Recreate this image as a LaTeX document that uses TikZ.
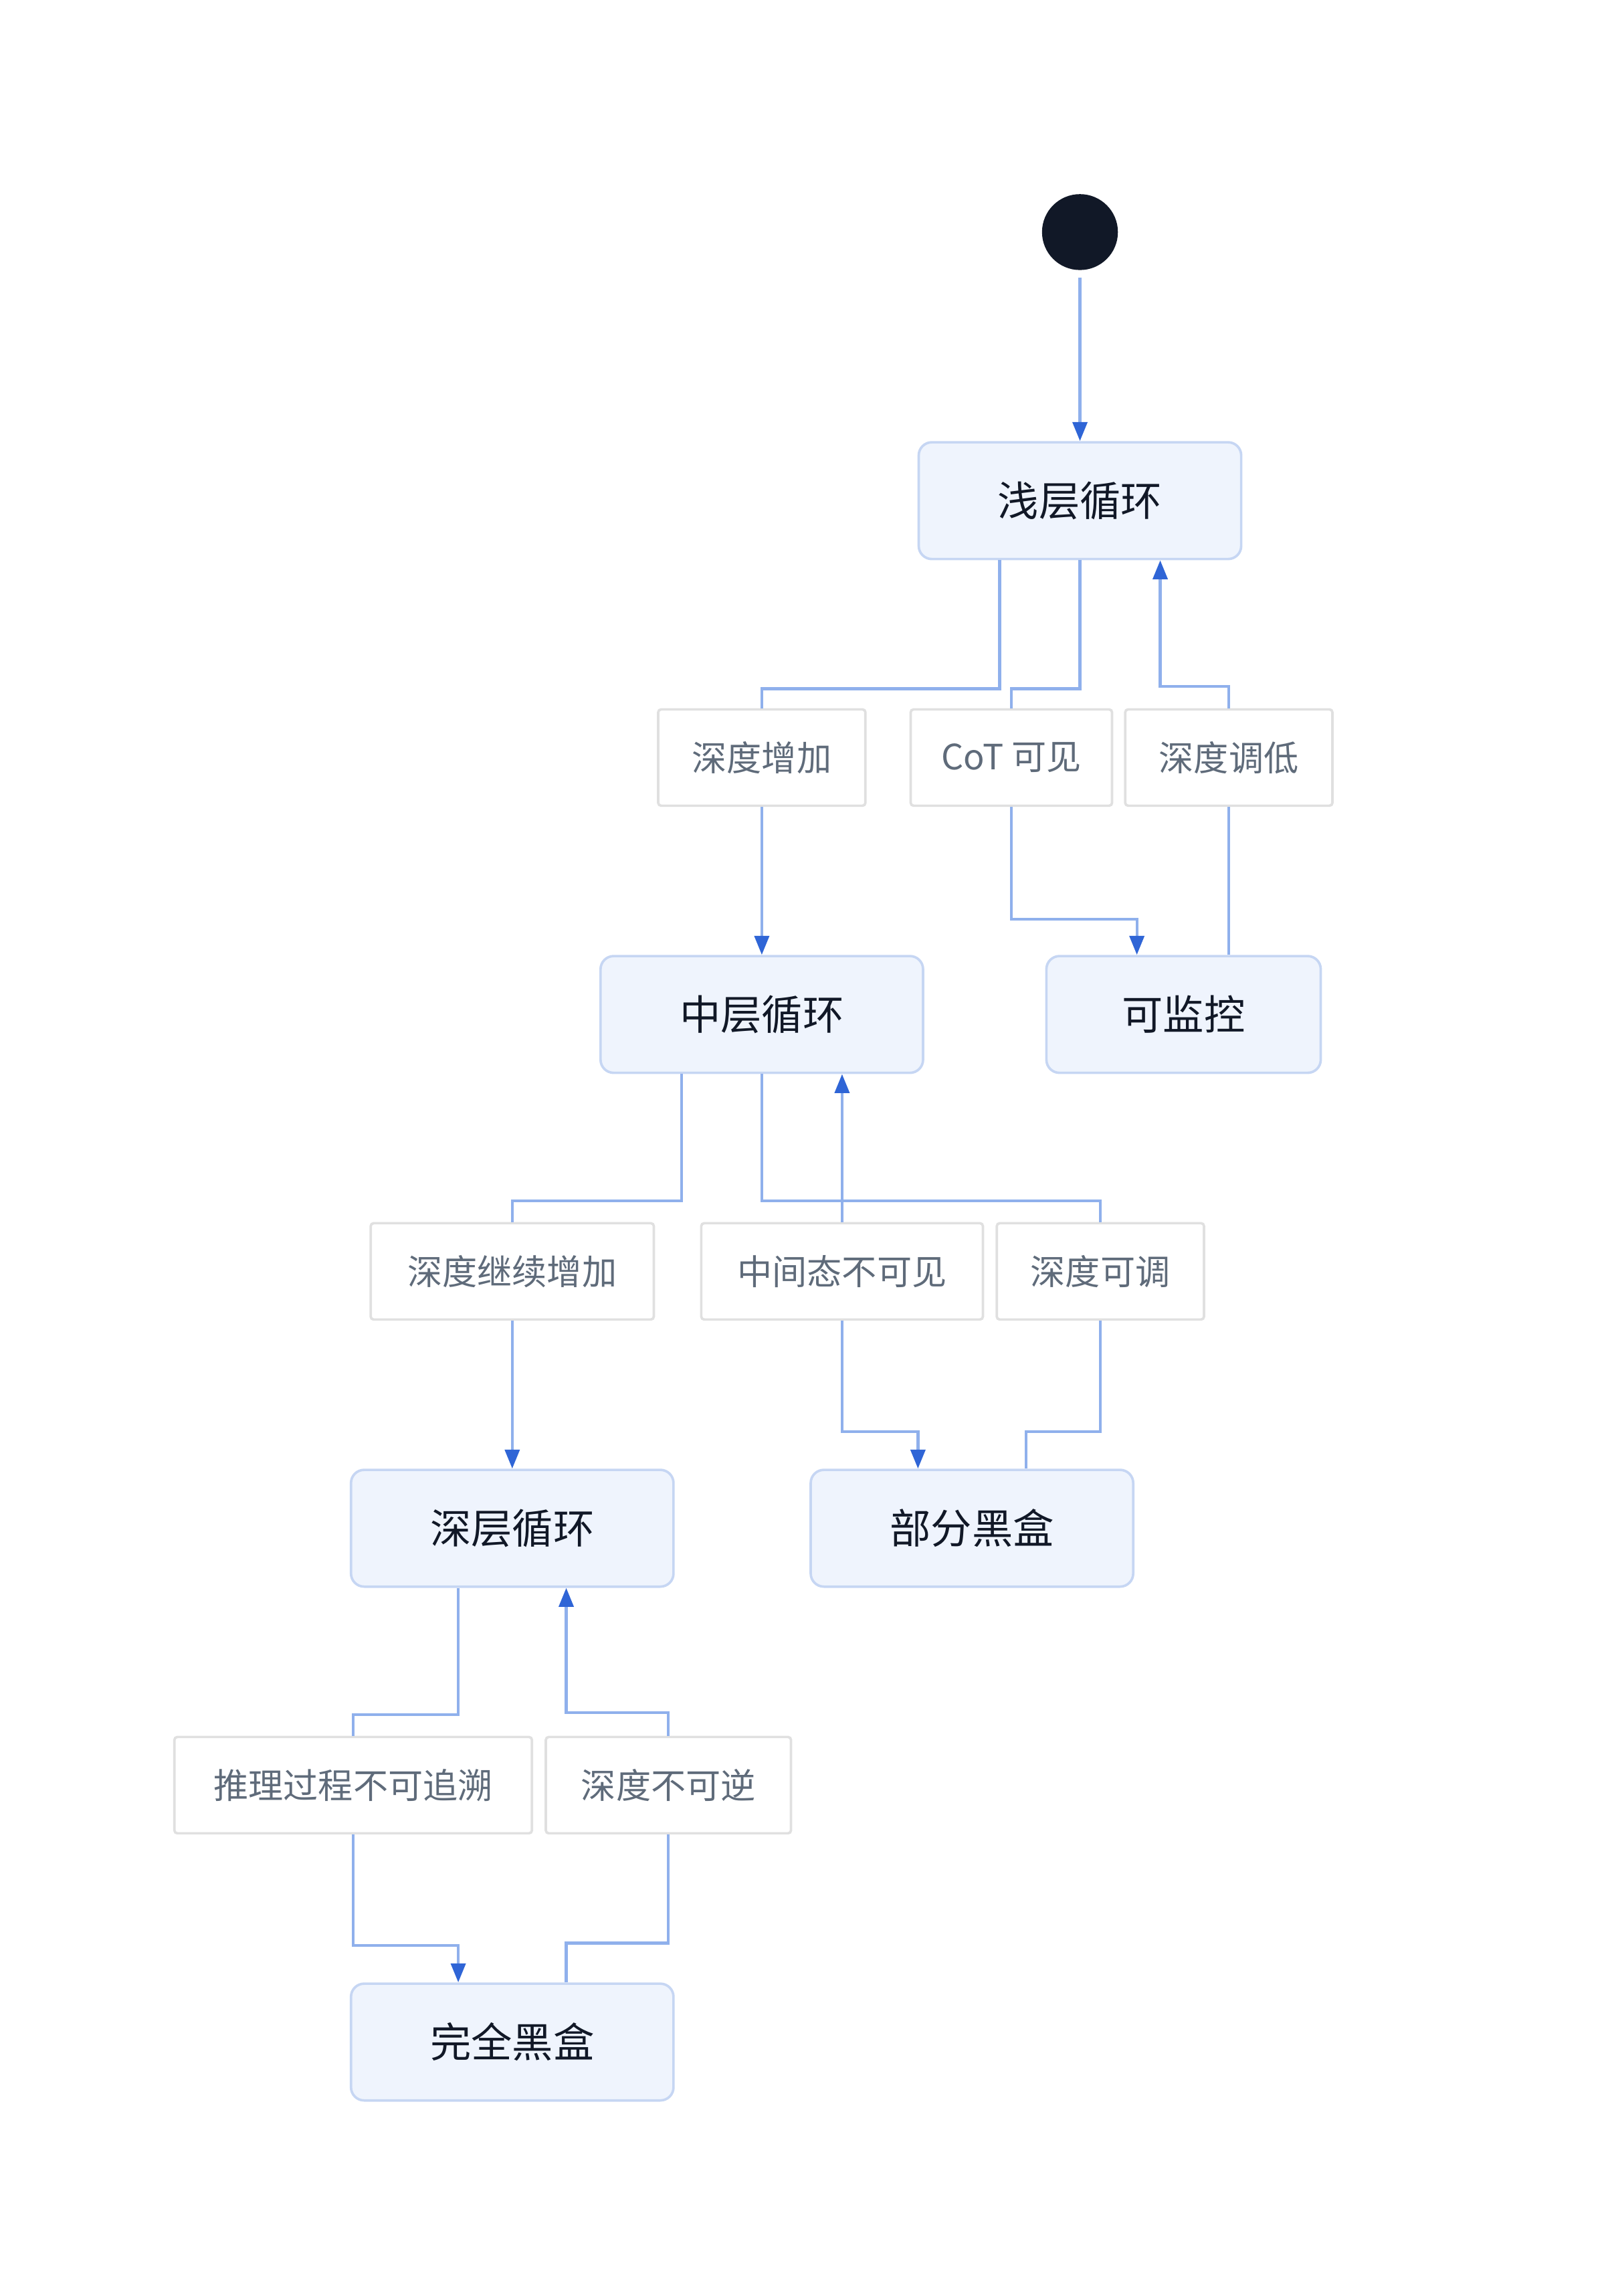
\documentclass[tikz,border=0pt]{standalone}
\usepackage{fontspec}
\setmainfont{Noto Sans CJK SC}
\usetikzlibrary{arrows.meta,calc}
\definecolor{lnc}{HTML}{8FB0EC}
\definecolor{arc}{HTML}{2F65D6}
\definecolor{stf}{HTML}{EFF4FD}
\definecolor{std}{HTML}{C6D6F3}
\definecolor{lbd}{HTML}{E0E0E0}
\definecolor{lbt}{HTML}{5F6B7A}
\definecolor{dk}{HTML}{111827}
\begin{document}
\begin{tikzpicture}[x=0.05cm,y=-0.05cm,
 st/.style={draw=std,fill=stf,line width=2.4pt,rounded corners=0.45cm,minimum width=11.05cm,minimum height=4cm,text=dk,font=\fontsize{40}{44}\selectfont,inner sep=0},
 lb/.style={draw=lbd,fill=white,line width=2.4pt,rounded corners=0.1cm,minimum height=3.3cm,text=lbt,font=\fontsize{34}{38}\selectfont,inner sep=0},
 ln/.style={draw=lnc,line width=2.8pt},
 ar/.style={ln,-{Triangle[length=0.65cm,width=0.5cm,color=arc]}}]
\useasboundingbox (0,0) rectangle (1100,1573);
\fill[dk] (740,159) circle (1.3cm) coordinate (st0);
\node[st] (s1) at (740,343) {浅层循环};
\node[st] (s2) at (522,695) {中层循环};
\node[st,minimum width=9.4cm] (m) at (811,695) {可监控};
\node[st] (s3) at (351,1047) {深层循环};
\node[st] (p) at (666,1047) {部分黑盒};
\node[st] (b) at (351,1399) {完全黑盒};
\node[lb,minimum width=7.1cm] (l1) at (522,519) {深度增加};
\node[lb,minimum width=6.9cm] (l2) at (693,519) {CoT 可见};
\node[lb,minimum width=7.1cm] (l3) at (842,519) {深度调低};
\node[lb,minimum width=9.7cm] (l4) at (351,871) {深度继续增加};
\node[lb,minimum width=9.65cm] (l5) at (577,871) {中间态不可见};
\node[lb,minimum width=7.1cm] (l6) at (754,871) {深度可调};
\node[lb,minimum width=12.25cm] (l7) at (242,1223) {推理过程不可追溯};
\node[lb,minimum width=8.4cm] (l8) at (458,1223) {深度不可逆};
\draw[ar] (740,190) -- (s1.north);
\draw[ln] ($(s1.south)+(-55,0)$) -- ++(0,88) -| (l1.north);
\draw[ar] (l1.south) -- (s2.north);
\draw[ln] (s1.south) -- ++(0,88) -| (l2.north);
\draw[ar] (l2.south) -- ++(0,77) -| ($(m.north)+(-32,0)$);
\draw[ln] ($(m.north)+(31,0)$) -- (l3.south);
\draw[ar] (l3.north) -- ++(0,-15) -| ($(s1.south)+(55,0)$);
\draw[ln] ($(s2.south)+(-55,0)$) -- ++(0,87) -| (l4.north);
\draw[ar] (l4.south) -- (s3.north);
\draw[ln] (s2.south) -- ++(0,87) -| (l6.north);
\draw[ln] (l6.south) -- ++(0,76) -| ($(p.north)+(37,0)$);
\draw[ar] (l5.north) -- ($(s2.south)+(55,0)$);
\draw[ar] (l5.south) -- ++(0,76) -| ($(p.north)+(-37,0)$);
\draw[ln] ($(s3.south)+(-37,0)$) -- ++(0,87) -| (l7.north);
\draw[ar] (l7.south) -- ++(0,76) -| ($(b.north)+(-37,0)$);
\draw[ln] ($(b.north)+(37,0)$) -- ++(0,-27) -| (l8.south);
\draw[ar] (l8.north) -- ++(0,-16) -| ($(s3.south)+(37,0)$);
\end{tikzpicture}
\end{document}
